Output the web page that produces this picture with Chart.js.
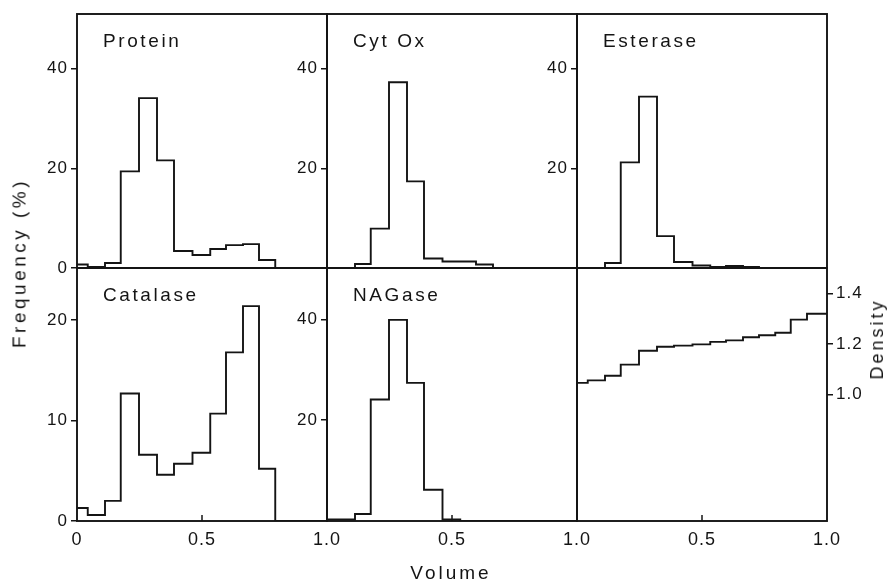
<!DOCTYPE html>
<html>
<head>
<meta charset="utf-8">
<title>Frequency distributions across volume</title>
<script src="https://cdn.jsdelivr.net/npm/chart.js@4.4.1/dist/chart.umd.min.js"></script>
<style>
  html, body { margin: 0; padding: 0; background: #ffffff; }
  #figure {
    position: relative; width: 893px; height: 585px; overflow: hidden;
    font-family: 'Liberation Sans', Arial, Helvetica, sans-serif; color: #141414;
  }
  #figure canvas { position: absolute; left: 0; top: 0; }
  .axis-title {
    position: absolute; z-index: 10; white-space: nowrap;
    font-size: 18px; letter-spacing: 3px; line-height: 1;
    transform: translate(-50%, -50%);
  }
  .axis-title.vertical { transform: translate(-50%, -50%) rotate(-90deg); }
</style>
</head>
<body>
<div id="figure">
  <div class="axis-title vertical" style="left:19px; top:263px; font-size:19px; letter-spacing:3.5px;">Frequency (%)</div>
  <div class="axis-title vertical" style="left:877px; top:339px;">Density</div>
  <div class="axis-title" style="left:451px; top:572px; font-size:19px;">Volume</div>
</div>
<script>
// Fraction boundaries along the gradient volume (shared by every panel)
const volumeEdges = [0, 0.043, 0.112, 0.175, 0.248, 0.32, 0.388, 0.462, 0.533, 0.596, 0.664, 0.728, 0.793, 0.855, 0.92, 1.0];

// Frequency (%) per fraction
const proteinFreq  = [0.7, 0.2, 1.0, 19.4, 34.1, 21.6, 3.4, 2.6, 3.8, 4.6, 4.8, 1.6, 0, 0, 0];
const cytOxFreq    = [0, 0, 0.8, 7.9, 37.3, 17.4, 1.9, 1.3, 1.3, 0.7, 0, 0, 0, 0, 0];
const esteraseFreq = [0, 0, 1.0, 21.2, 34.4, 6.4, 1.2, 0.5, 0.2, 0.4, 0.2, 0, 0, 0, 0];
const catalaseFreq = [1.3, 0.6, 2.0, 12.7, 6.6, 4.6, 5.7, 6.8, 10.7, 16.8, 21.4, 5.2, 0, 0, 0];
const nagaseFreq   = [0.3, 0.3, 1.4, 24.1, 39.9, 27.4, 6.2, 0.3, 0, 0, 0, 0, 0, 0, 0];

// Density of each fraction
const densityValues = [1.046, 1.056, 1.074, 1.118, 1.173, 1.189, 1.193, 1.198, 1.208, 1.214, 1.226, 1.234, 1.244, 1.296, 1.319];

// Panel names and tick values / labels
const panelNames = ['Protein', 'Cyt Ox', 'Esterase', 'Catalase', 'NAGase'];
const freqTicks = [0, 20, 40];
const innerFreqTicks = [20, 40];
const catalaseTicks = [0, 10, 20];
const densityTicks = [1.0, 1.2, 1.4];
const volumeTicks = [0, 0.5, 1.0];
const volumeLabelsFirst = ['0', '0.5', '1.0'];
const volumeLabelsRest = ['', '0.5', '1.0'];

// Pixel layout of the 3 x 2 panel grid
const GRID = { left: 77, colWidth: 250, top: 14, rowSplit: 268, bottom: 521, width: 893, height: 585 };
const Y_AXIS_W = 40;
const X_AXIS_H = 50;
const INK = '#141414';
const FONT = "'Liberation Sans', Arial, Helvetica, sans-serif";

Chart.defaults.font.family = FONT;
Chart.defaults.color = INK;

// Turn bin edges + bin values into the corner points of a step outline
function stepPoints(edges, values, dropToZero) {
  const pts = values.map((v, i) => ({ x: edges[i], y: v }));
  pts.push({ x: edges[values.length], y: dropToZero ? 0 : values[values.length - 1] });
  return pts;
}

// Frame, inner x tick and panel name
const panelDecor = {
  id: 'panelDecor',
  beforeDraw(chart) { chart.ctx.letterSpacing = '1px'; },
  afterDraw(chart, args, opts) {
    const { ctx, chartArea: a } = chart;
    ctx.save();
    ctx.letterSpacing = '0px';
    ctx.strokeStyle = INK;
    ctx.lineWidth = 1.9;
    ctx.strokeRect(a.left, a.top, a.right - a.left, a.bottom - a.top);
    if (opts.innerTick != null) {
      const x = chart.scales.x.getPixelForValue(opts.innerTick);
      ctx.lineWidth = 1.5;
      ctx.beginPath();
      ctx.moveTo(x, a.bottom);
      ctx.lineTo(x, a.bottom - 6);
      ctx.stroke();
    }
    if (opts.name) {
      ctx.fillStyle = INK;
      ctx.font = '19px ' + FONT;
      ctx.letterSpacing = '2.6px';
      ctx.textAlign = 'left';
      ctx.textBaseline = 'alphabetic';
      ctx.fillText(opts.name, a.left + 26, a.top + 33);
    }
    ctx.restore();
  }
};

const fig = document.getElementById('figure');

function makePanel(p) {
  const canvas = document.createElement('canvas');
  canvas.width = GRID.width;
  canvas.height = GRID.height;
  fig.insertBefore(canvas, fig.firstChild);

  const left = GRID.left + p.col * GRID.colWidth;
  const right = left + GRID.colWidth;
  const top = p.row === 0 ? GRID.top : GRID.rowSplit;
  const bottom = p.row === 0 ? GRID.rowSplit : GRID.bottom;
  const yRight = p.yPosition === 'right';

  const padding = {
    left: yRight ? left : left - Y_AXIS_W,
    right: yRight ? GRID.width - right - Y_AXIS_W : GRID.width - right,
    top: top,
    bottom: p.xLabels ? GRID.height - bottom - X_AXIS_H : GRID.height - bottom
  };

  return new Chart(canvas, {
    type: 'line',
    data: {
      datasets: [{
        data: stepPoints(volumeEdges, p.values, p.dropToZero),
        borderColor: INK,
        borderWidth: 1.9,
        pointRadius: 0,
        stepped: true,
        fill: false
      }]
    },
    options: {
      responsive: false,
      animation: false,
      events: [],
      layout: { padding },
      plugins: {
        legend: { display: false },
        tooltip: { enabled: false },
        panelDecor: { name: p.name, innerTick: p.xLabels ? 0.5 : null }
      },
      scales: {
        x: {
          type: 'linear', min: 0, max: 1,
          display: !!p.xLabels,
          afterFit(s) { s.height = p.xLabels ? X_AXIS_H : 0; },
          afterBuildTicks(s) { s.ticks = volumeTicks.map(v => ({ value: v })); },
          grid: { display: false },
          border: { display: false },
          ticks: {
            padding: 0, color: INK, font: { size: 18 },
            maxRotation: 0, autoSkip: false,
            callback: (v, i) => (p.xLabels ? p.xLabels[i] : '')
          }
        },
        y: {
          type: 'linear', position: p.yPosition, min: p.yMin, max: p.yMax,
          afterFit(s) { s.width = Y_AXIS_W; },
          afterBuildTicks(s) { s.ticks = p.yTicks.map(v => ({ value: v })); },
          grid: { drawOnChartArea: false, drawTicks: true, tickLength: 6, color: INK, lineWidth: 1.5 },
          border: { display: false },
          ticks: {
            padding: 3, color: INK, font: { size: 17 }, autoSkip: false,
            callback: v => p.format(v)
          }
        }
      }
    },
    plugins: [panelDecor]
  });
}

const asInt = v => String(Math.round(v));
const asOneDecimal = v => v.toFixed(1);

makePanel({ row: 0, col: 0, name: panelNames[0], values: proteinFreq,  dropToZero: true, yMin: 0, yMax: 51, yTicks: freqTicks,      yPosition: 'left', format: asInt });
makePanel({ row: 0, col: 1, name: panelNames[1], values: cytOxFreq,    dropToZero: true, yMin: 0, yMax: 51, yTicks: innerFreqTicks, yPosition: 'left', format: asInt });
makePanel({ row: 0, col: 2, name: panelNames[2], values: esteraseFreq, dropToZero: true, yMin: 0, yMax: 51, yTicks: innerFreqTicks, yPosition: 'left', format: asInt });
makePanel({ row: 1, col: 0, name: panelNames[3], values: catalaseFreq, dropToZero: true, yMin: 0, yMax: 25.2, yTicks: catalaseTicks, yPosition: 'left', format: asInt, xLabels: volumeLabelsFirst });
makePanel({ row: 1, col: 1, name: panelNames[4], values: nagaseFreq,   dropToZero: true, yMin: 0, yMax: 50.2, yTicks: innerFreqTicks, yPosition: 'left', format: asInt, xLabels: volumeLabelsRest });
makePanel({ row: 1, col: 2, name: null, values: densityValues, dropToZero: false, yMin: 0.5, yMax: 1.5, yTicks: densityTicks, yPosition: 'right', format: asOneDecimal, xLabels: volumeLabelsRest });
</script>
</body>
</html>
